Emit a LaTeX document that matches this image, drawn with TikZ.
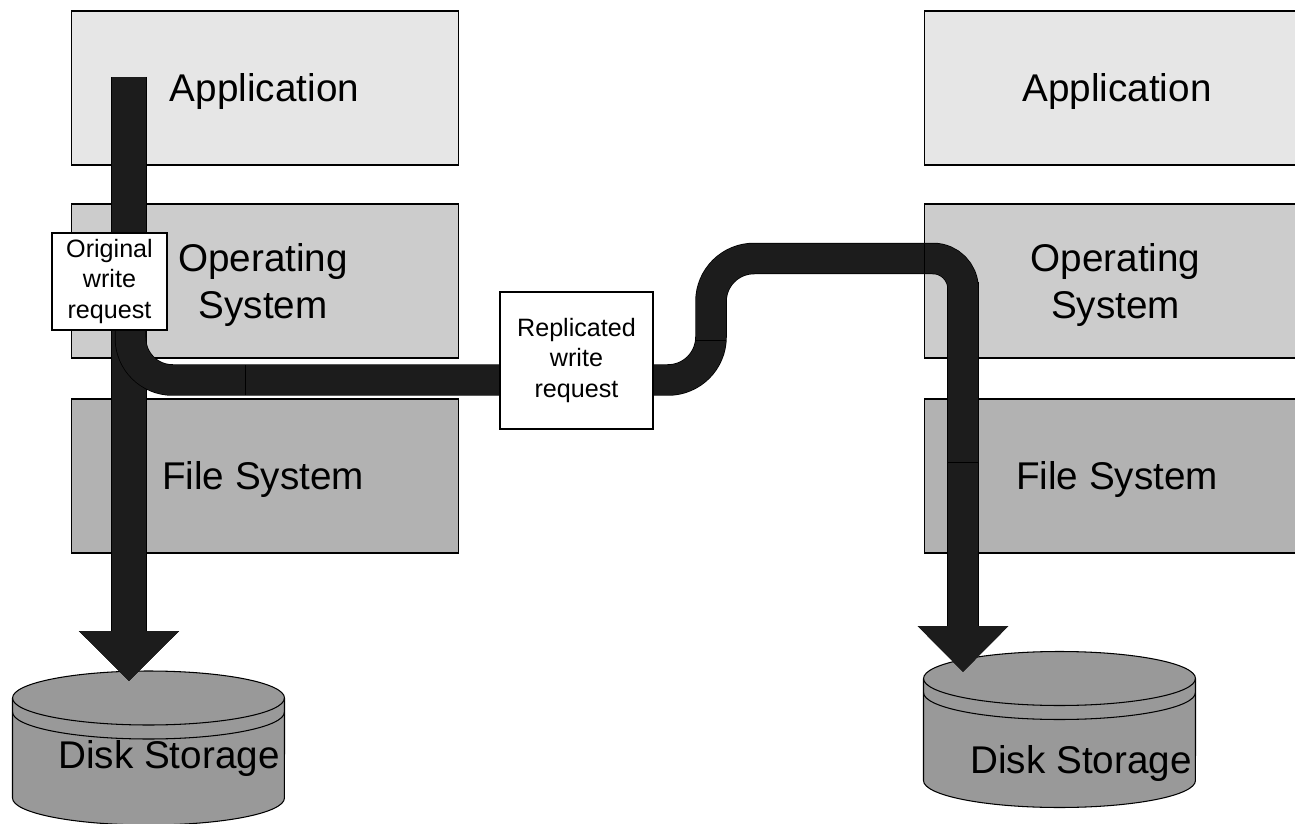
\documentclass[tikz,border=0pt]{standalone}
\usepackage{xcolor}
\usepackage{fontspec}
\setmainfont{Liberation Sans}
\usetikzlibrary{arrows.meta, positioning}
\definecolor{appcolor}{RGB}{230,230,230}
\definecolor{oscolor}{RGB}{204,204,204}
\definecolor{fscolor}{RGB}{178,178,178}
\definecolor{diskcolor}{RGB}{153,153,153}
\definecolor{pipecolor}{RGB}{28,28,28}
\newcommand{\DiskShape}[3]{
    \draw[diskline] (#1-136,#2) -- (#1-136,#2+#3) arc[start angle=180, end angle=360, x radius=2.72cm, y radius=0.54cm] -- (#1+136,#2) arc[start angle=0, end angle=180, x radius=2.72cm, y radius=0.54cm];
    \draw[diskline, fill=none] (#1-136,#2) arc[start angle=180, end angle=360, x radius=2.72cm, y radius=0.54cm];
    \draw[diskline, fill=none] (#1-136,#2+14) arc[start angle=180, end angle=360, x radius=2.72cm, y radius=0.54cm];
}

\begin{document}
\begin{tikzpicture}[
    x=0.02cm,
    y=-0.02cm,
    layerbox/.style={draw, line width=0.6pt, minimum width=7.76cm, minimum height=3.08cm},
    layertext/.style={align=center, font=\fontsize{22}{26.7}\selectfont},
    diskline/.style={draw, line width=0.6pt, fill=diskcolor},
    request/.style={draw, line width=0.6pt, fill=white, align=center, inner sep=0pt, font=\fontsize{14.3}{17.3}\selectfont},
    pipe/.style={draw=pipecolor, line width=0.6cm, preaction={draw=black, line width=0.63cm}},
    seam/.style={draw=black, line width=0.5pt}
]
    \path[use as bounding box, clip] (0,0) rectangle (1295,824);

    % Source host layers
    \node[layerbox, fill=appcolor] (appleft) at (265,88) {};
    \node[layerbox, fill=oscolor] (osleft) at (265,281) {};
    \node[layerbox, fill=fscolor] (fsleft) at (265,476) {};
    \node[layertext] (appleftname) at (264.5,91.5) {Application};
    \node[layertext] (osleftname) at (263,285) {Operating\\System};
    \node[layertext] (fsleftname) at (263,480) {File System};

    % Target host layers
    \node[layerbox, fill=appcolor] (appright) at (1118,88) {};
    \node[layerbox, fill=oscolor] (osright) at (1118,281) {};
    \node[layerbox, fill=fscolor] (fsright) at (1118,476) {};
    \node[layertext] (apprightname) at (1117,91.5) {Application};
    \node[layertext] (osrightname) at (1115.5,285) {Operating\\System};
    \node[layertext] (fsrightname) at (1117,480) {File System};

    % Disks
    \DiskShape{148.5}{698}{100}
    \DiskShape{1059.5}{678.5}{102}
    \node[layertext] (diskleft) at (169,759) {Disk Storage};
    \node[layertext] (diskright) at (1081,764) {Disk Storage};

    % Free ends of the pipes
    \coordinate (writestart) at (129,77);
    \coordinate (writeend) at (129,681);
    \coordinate (branchstart) at (130.5,320);
    \coordinate (branchend) at (505,380);
    \coordinate (replstart) at (648,380);
    \coordinate (replbend) at (711,258.5);
    \coordinate (replcorner) at (963,258.5);
    \coordinate (replstop) at (963,462);
    \coordinate (targetstart) at (963,282);
    \coordinate (targetend) at (963,672);

    % Original write
    \draw[pipe, line width=0.68cm, preaction={draw=black, line width=0.71cm}, -{Triangle[length=1cm, width=1.94cm]}] (writestart) -- (writeend);
    \draw[pipe, rounded corners=0.84cm] (branchstart) |- (branchend);
    \draw[seam] (245,365) -- (245,395);

    % Replicated write
    \draw[pipe, -{Triangle[length=0.92cm, width=1.76cm]}] (targetstart) -- (targetend);
    \draw[pipe] (replstart) [rounded corners=0.86cm] -| (replbend) [rounded corners=0.6cm] -- (replcorner) [rounded corners=0pt] -- (replstop);
    \draw[seam] (696,340) -- (726,340);
    \draw[seam] (924,244) -- (924,273);
    \draw[seam] (948,462) -- (978,462);

    % Request labels
    \node[request, minimum width=2.3cm, minimum height=1.94cm] (origreq) at (109.5,281.5) {Original\\write\\request};
    \node[request, minimum width=3.06cm, minimum height=2.74cm] (replreq) at (576.5,360.5) {Replicated\\write\\request};
\end{tikzpicture}
\end{document}
